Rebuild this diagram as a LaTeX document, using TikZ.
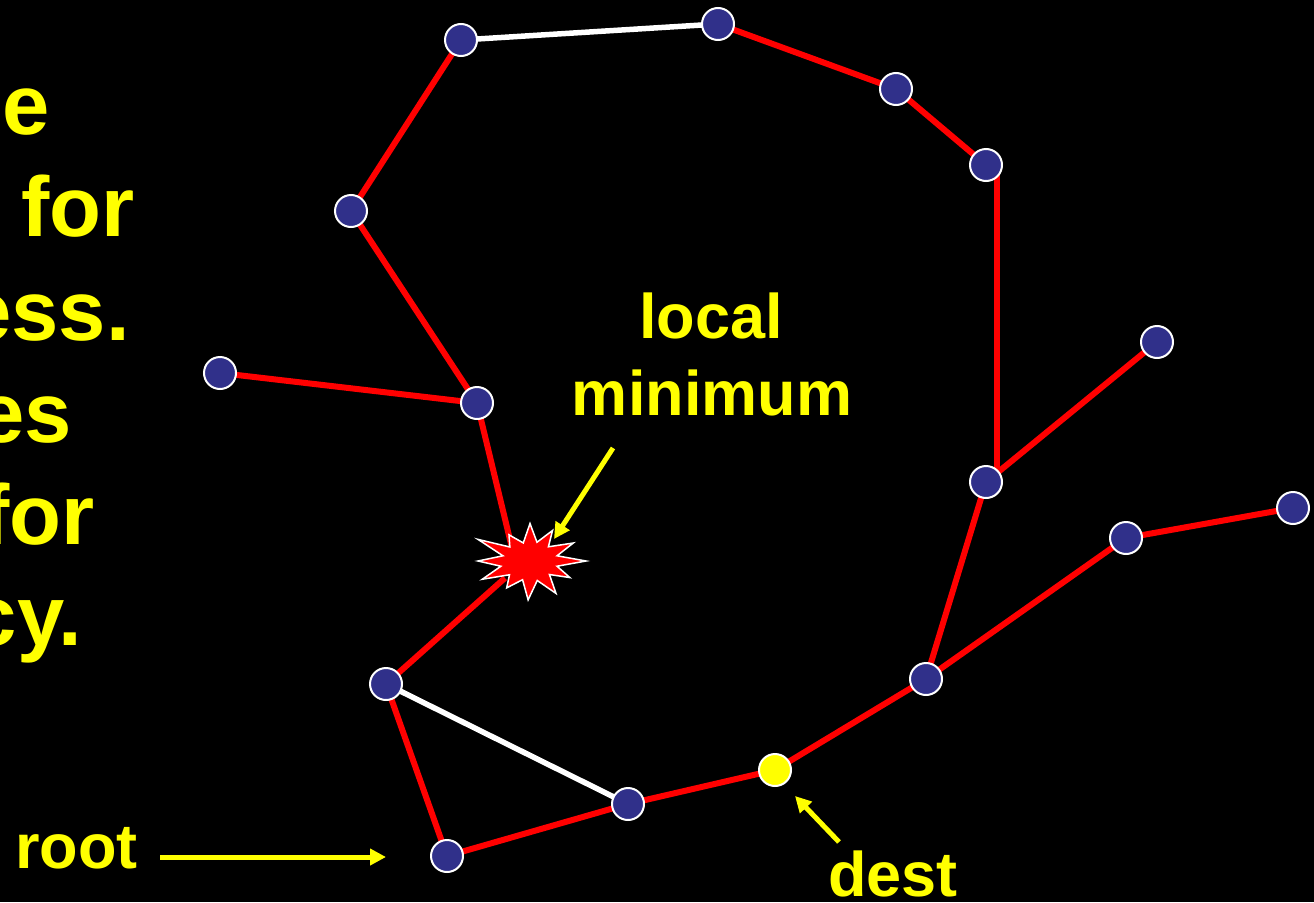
\documentclass[tikz,border=0pt]{standalone}
\usepackage{fontspec}
\setmainfont{Liberation Sans}
\usetikzlibrary{arrows.meta}
\definecolor{nodeblue}{RGB}{48,48,138}
\definecolor{ylw}{RGB}{255,255,0}
\definecolor{rd}{RGB}{255,0,0}
\tikzset{
  vtx/.style={circle,fill=nodeblue,draw=white,line width=2pt,minimum size=32pt,inner sep=0pt},
  dst/.style={circle,fill=ylw,draw=white,line width=2pt,minimum size=32pt,inner sep=0pt},
  redge/.style={draw=rd,line width=6pt},
  wedge/.style={draw=white,line width=5.5pt},
  yarrow/.style={draw=ylw,line width=5pt,-{Triangle[length=16pt,width=16pt]}},
  bigtxt/.style={text=ylw,font=\fontsize{85}{100}\selectfont\bfseries,inner sep=0pt,anchor=base east},
  lbl/.style={text=ylw,font=\fontsize{63}{75}\selectfont\bfseries,inner sep=0pt},
  burst/.style={fill=rd,draw=white,line width=1.5pt,line join=miter}
}
\begin{document}
\begin{tikzpicture}[x=1pt,y=-1pt]
\useasboundingbox (0,0) rectangle (1314,902);
\fill[black] (0,0) rectangle (1314,902);

% left text fragments
\node[bigtxt] (t1) at (50,134) {ee};
\node[bigtxt] (t2) at (135,236) {for};
\node[bigtxt] (t3) at (130,340) {ess.};
\node[bigtxt] (t4) at (72,442) {es};
\node[bigtxt] (t5) at (95,544) {for};
\node[bigtxt] (t6) at (82,645) {cy.};

% coordinates
\coordinate (A) at (461,40);
\coordinate (B) at (718,24);
\coordinate (C) at (896,89);
\coordinate (D) at (986,165);
\coordinate (E) at (351,211);
\coordinate (F) at (220,373);
\coordinate (G) at (477,403);
\coordinate (H) at (1157,342);
\coordinate (I) at (986,482);
\coordinate (J) at (1293,508);
\coordinate (K) at (1126,538);
\coordinate (L) at (386,684);
\coordinate (M) at (926,679);
\coordinate (N) at (775,770);
\coordinate (O) at (628,804);
\coordinate (P) at (447,856);
\coordinate (S1) at (512,548);
\coordinate (S2) at (505,578);
\coordinate (Dr) at (997,175);
\coordinate (Ir) at (997,478);

% edges
\draw[wedge] (A) -- (B);
\draw[redge] (B) -- (C);
\draw[redge] (C) -- (D);
\draw[redge] (Dr) -- (Ir);
\draw[redge] (A) -- (E);
\draw[redge] (E) -- (G);
\draw[redge] (F) -- (G);
\draw[redge] (G) -- (S1);
\draw[redge] (S2) -- (L);
\draw[wedge] (L) -- (O);
\draw[redge] (L) -- (P);
\draw[redge] (P) -- (O);
\draw[redge] (O) -- (N);
\draw[redge] (N) -- (M);
\draw[redge] (M) -- (I);
\draw[redge] (M) -- (K);
\draw[redge] (K) -- (J);
\draw[redge] (I) -- (H);

% starburst (local minimum)
\filldraw[burst,shift={(530,561)},yscale=0.72]
  (0:56) -- (15:28) -- (30:46) -- (44:27) -- (60:52) -- (75:28) -- (92:54)
  -- (106:27) -- (122:44) -- (137:28) -- (152:54) -- (166:30) -- (180:52)
  -- (195:28) -- (210:60) -- (224:28) -- (240:42) -- (255:26) -- (270:52)
  -- (285:27) -- (298:48) -- (313:27) -- (330:50) -- (345:28) -- cycle;

% vertices
\foreach \n in {A,B,C,D,E,F,G,H,I,J,K,L,M,O,P}
  \node[vtx] (v\n) at (\n) {};
\node[dst] (vN) at (N) {};

% labels
\node[lbl,anchor=base] (loc) at (711,338) {local};
\node[lbl,anchor=base] (minl) at (712,415) {minimum};
\node[lbl,anchor=base west] (rootl) at (15,868) {root};
\node[lbl,anchor=base west] (destl) at (828,896) {dest};

% arrows
\coordinate (ra) at (160,857);
\coordinate (rb) at (386,857);
\coordinate (ma) at (613,448);
\coordinate (mb) at (554,539);
\coordinate (da) at (839,842);
\coordinate (db) at (795,796);
\draw[yarrow] (ra) -- (rb);
\draw[yarrow] (ma) -- (mb);
\draw[yarrow] (da) -- (db);
\end{tikzpicture}
\end{document}
